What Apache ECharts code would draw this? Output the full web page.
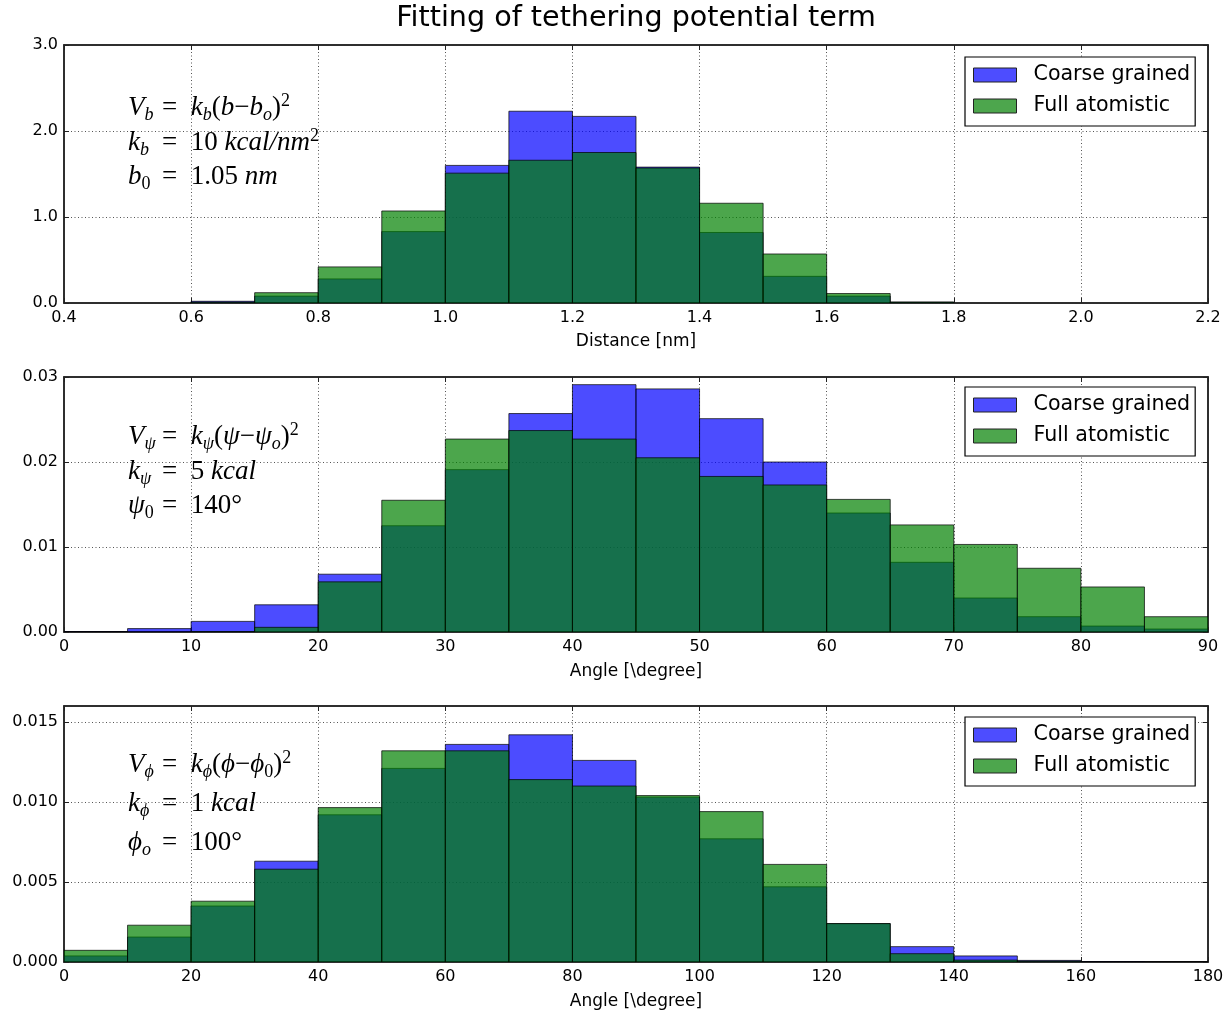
<!DOCTYPE html>
<html><head><meta charset="utf-8">
<script src="https://cdn.jsdelivr.net/npm/echarts@6/dist/echarts.min.js"></script>
<style>html,body{margin:0;padding:0;background:#fff}#c{width:1228px;height:1014px}</style>
</head><body><div id="c"></div>
<script>
// ---------- data ----------
const distEdges = [0.6, 0.7, 0.8, 0.9, 1.0, 1.1, 1.2, 1.3, 1.4, 1.5, 1.6, 1.7, 1.8];
const distCG = [0.02, 0.08, 0.28, 0.83, 1.60, 2.23, 2.17, 1.58, 0.82, 0.31, 0.08, 0.01];
const distFA = [0.01, 0.12, 0.42, 1.07, 1.51, 1.66, 1.75, 1.57, 1.16, 0.57, 0.11, 0.01];

const psiEdges = [0, 5, 10, 15, 20, 25, 30, 35, 40, 45, 50, 55, 60, 65, 70, 75, 80, 85, 90];
const psiCG = [0.00005, 0.0004, 0.00125, 0.0032, 0.0068, 0.0125, 0.0191, 0.0257, 0.0291, 0.0286,
               0.0251, 0.0200, 0.0140, 0.0082, 0.0040, 0.0018, 0.0007, 0.00035];
const psiFA = [0, 0, 0.00005, 0.00055, 0.0059, 0.0155, 0.0227, 0.0237, 0.0227, 0.0205,
               0.0183, 0.0173, 0.0156, 0.0126, 0.0103, 0.0075, 0.0053, 0.0018];

const phiEdges = [0, 10, 20, 30, 40, 50, 60, 70, 80, 90, 100, 110, 120, 130, 140, 150, 160, 170, 180];
const phiCG = [0.00038, 0.00156, 0.0035, 0.0063, 0.0092, 0.0121, 0.0136, 0.0142, 0.0126, 0.0103,
               0.0077, 0.0047, 0.0024, 0.00096, 0.00038, 0.0001, 0.00003, 0];
const phiFA = [0.00073, 0.0023, 0.0038, 0.0058, 0.00965, 0.0132, 0.0132, 0.0114, 0.0110, 0.0104,
               0.0094, 0.0061, 0.0024, 0.00052, 0.00012, 0.00005, 0, 0];

const seriesNames = ['Coarse grained', 'Full atomistic'];
const titleText = 'Fitting of tethering potential term';
const xNames = ['Distance [nm]', 'Angle [\\degree]', 'Angle [\\degree]'];

// ---------- layout ----------
const panels = [
  {edges: distEdges, cg: distCG, fa: distFA, xmin: 0.4, xmax: 2.2, xint: 0.2, xdec: 1, ymax: 3.0, yint: 1.0, ydec: 1, showYMax: true,
   grid: {left: 64, top: 45, width: 1144, height: 258}, legendTop: 57, nameGap: 30},
  {edges: psiEdges, cg: psiCG, fa: psiFA, xmin: 0, xmax: 90, xint: 10, xdec: 0, ymax: 0.03, yint: 0.01, ydec: 2, showYMax: true,
   grid: {left: 64, top: 377, width: 1144, height: 255}, legendTop: 387, nameGap: 31},
  {edges: phiEdges, cg: phiCG, fa: phiFA, xmin: 0, xmax: 180, xint: 20, xdec: 0, ymax: 0.016, yint: 0.005, ydec: 3, showYMax: false,
   grid: {left: 64, top: 706, width: 1144, height: 256}, legendTop: 717, nameGap: 31}
];

const FONT = 'DejaVu Sans';
const CG_COLOR = 'rgb(0,0,255)';
const FA_COLOR = 'rgb(0,128,0)';

function histData(edges, vals) {
  return vals.map((v, i) => [edges[i], edges[i + 1], v]);
}
function renderHist(params, api) {
  const p0 = api.coord([api.value(0), api.value(2)]);
  const p1 = api.coord([api.value(1), 0]);
  return {
    type: 'rect',
    shape: {x: p0[0], y: p0[1], width: p1[0] - p0[0], height: p1[1] - p0[1]},
    style: {fill: api.visual('color'), stroke: '#000', lineWidth: 1, opacity: 0.7}
  };
}

const grids = [], xAxes = [], yAxes = [], series = [], legends = [];
const gridLine = {show: true, lineStyle: {color: '#555', width: 1, type: [1, 2.5]}};
const axLine = {show: true, onZero: false, lineStyle: {color: '#222', width: 1.5}};
const tick = {show: true, inside: true, length: 5, lineStyle: {color: '#222', width: 1}};

panels.forEach((p, i) => {
  grids.push(Object.assign({show: true, borderColor: '#222', borderWidth: 1.5, backgroundColor: '#fff'}, p.grid));
  xAxes.push({
    type: 'value', gridIndex: i, min: p.xmin, max: p.xmax, interval: p.xint, position: 'bottom',
    axisLine: axLine, axisTick: tick, splitLine: gridLine,
    axisLabel: {show: true, margin: 7, color: '#000', fontSize: 16, fontFamily: FONT,
                showMinLabel: true, showMaxLabel: true, hideOverlap: false,
                formatter: (v) => Number(v).toFixed(p.xdec)},
    name: xNames[i], nameLocation: 'middle', nameGap: p.nameGap,
    nameTextStyle: {fontSize: 17, fontFamily: FONT, color: '#000'}
  });
  yAxes.push({
    type: 'value', gridIndex: i, min: 0, max: p.ymax, interval: p.yint, position: 'left',
    axisLine: axLine, axisTick: tick, splitLine: gridLine,
    axisLabel: {show: true, margin: 6, color: '#000', fontSize: 16, fontFamily: FONT,
                showMinLabel: true, showMaxLabel: p.showYMax, hideOverlap: false,
                formatter: (v) => Number(v).toFixed(p.ydec)}
  });
  [[seriesNames[0], CG_COLOR, p.cg], [seriesNames[1], FA_COLOR, p.fa]].forEach(([name, color, vals]) => {
    series.push({
      type: 'custom', name: name, xAxisIndex: i, yAxisIndex: i, silent: true, clip: true,
      itemStyle: {color: color}, encode: {x: [0, 1], y: 2},
      data: histData(p.edges, vals), renderItem: renderHist
    });
  });
  legends.push({
    show: true, orient: 'vertical', left: 965, top: p.legendTop, selectedMode: false,
    backgroundColor: '#fff', borderColor: '#000', borderWidth: 1.2, borderRadius: 0,
    padding: [6, 5, 8, 8], itemGap: 7, itemWidth: 43, itemHeight: 14,
    textStyle: {fontSize: 20.6, fontFamily: FONT, color: '#000', lineHeight: 24, padding: [0, 0, 0, 12]},
    data: [
      {name: seriesNames[0], icon: 'rect', itemStyle: {color: '#4d4dff', borderColor: '#222', borderWidth: 1}},
      {name: seriesNames[1], icon: 'rect', itemStyle: {color: '#4da64d', borderColor: '#222', borderWidth: 1}}
    ]
  });
});

// top / right tick-only axes (matplotlib classic style)
panels.forEach((p, i) => {
  xAxes.push({type: 'value', gridIndex: i, min: p.xmin, max: p.xmax, interval: p.xint, position: 'top',
    axisLine: axLine, axisTick: tick, axisLabel: {show: false}, splitLine: {show: false}});
  yAxes.push({type: 'value', gridIndex: i, min: 0, max: p.ymax, interval: p.yint, position: 'right',
    axisLine: axLine, axisTick: tick, axisLabel: {show: false}, splitLine: {show: false}});
});

// ---------- formula annotations ----------
const MF = 'Liberation Serif, DejaVu Serif, serif';
const rich = {
  i: {fontFamily: MF, fontStyle: 'italic', fontSize: 27, lineHeight: 32, fill: '#000', color: '#000'},
  r: {fontFamily: MF, fontSize: 27, lineHeight: 32, fill: '#000', color: '#000'},
  sub: {fontFamily: MF, fontStyle: 'italic', fontSize: 18, lineHeight: 18, verticalAlign: 'bottom', fill: '#000', color: '#000'},
  subr: {fontFamily: MF, fontSize: 18, lineHeight: 18, verticalAlign: 'bottom', fill: '#000', color: '#000'},
  sup: {fontFamily: MF, fontSize: 18, lineHeight: 18, verticalAlign: 'top', fill: '#000', color: '#000'}
};
const formulas = [
  [['{i|V}{sub|b}', '{r|=  }{i|k}{sub|b}{r|(}{i|b}{r|−}{i|b}{sub|o}{r|)}{sup|2}'],
   ['{i|k}{sub|b}', '{r|=  10 }{i|kcal/nm}{sup|2}'],
   ['{i|b}{subr|0}', '{r|=  1.05 }{i|nm}']],
  [['{i|V}{sub|ψ}', '{r|=  }{i|k}{sub|ψ}{r|(}{i|ψ}{r|−}{i|ψ}{sub|o}{r|)}{sup|2}'],
   ['{i|k}{sub|ψ}', '{r|=  5 }{i|kcal}'],
   ['{i|ψ}{subr|0}', '{r|=  140°}']],
  [['{i|V}{sub|ϕ}', '{r|=  }{i|k}{sub|ϕ}{r|(}{i|ϕ}{r|−}{i|ϕ}{subr|0}{r|)}{sup|2}'],
   ['{i|k}{sub|ϕ}', '{r|=  1 }{i|kcal}'],
   ['{i|ϕ}{sub|o}', '{r|=  100°}']]
];
const lineY = [[108, 143, 177], [437, 472, 506], [765, 804, 843]];
const graphics = [];
formulas.forEach((lines, pi) => {
  lines.forEach((ln, li) => {
    graphics.push({type: 'text', x: 128, y: lineY[pi][li], z: 100,
      style: {text: ln[0], rich: rich, verticalAlign: 'middle', align: 'left'}});
    graphics.push({type: 'text', x: 162, y: lineY[pi][li], z: 100,
      style: {text: ln[1], rich: rich, verticalAlign: 'middle', align: 'left'}});
  });
});

const chart = echarts.init(document.getElementById('c'), null, {renderer: 'canvas'});
chart.setOption({
  animation: false,
  backgroundColor: '#fff',
  title: {text: titleText, left: 636, top: 4, textAlign: 'center', padding: 0,
          textStyle: {fontSize: 28.6, fontWeight: 'normal', fontFamily: FONT, color: '#000'}},
  grid: grids, xAxis: xAxes, yAxis: yAxes, legend: legends, series: series,
  graphic: graphics
});
</script></body></html>
